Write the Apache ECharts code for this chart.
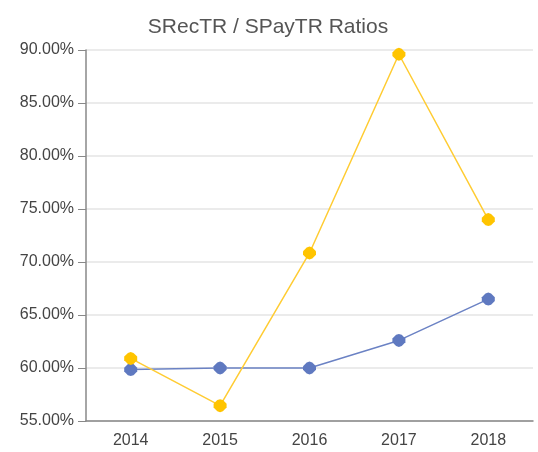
<!DOCTYPE html>
<html>
<head>
<meta charset="utf-8">
<script src="https://cdn.jsdelivr.net/npm/echarts@6/dist/echarts.min.js"></script>
<style>
html,body{margin:0;padding:0;background:#fff;}
#chart{width:538px;height:452px;}
</style>
</head>
<body>
<div id="chart"></div>
<script>
var titleText = 'SRecTR / SPayTR Ratios';
var years = ['2014', '2015', '2016', '2017', '2018'];
var srectrSeries = [59.85, 60.0, 60.0, 62.6, 66.5];
var spaytrSeries = [60.9, 56.45, 70.85, 89.6, 74.0];
var yMin = 55, yMax = 90, yStep = 5;

var chart = echarts.init(document.getElementById('chart'));
var markerPath = 'path://M0,-7 L3,-6 L7,-2 L7,2 L3,6 L0,7 L-3,6 L-7,2 L-7,-2 L-3,-6 Z';
chart.setOption({
  animation: false,
  backgroundColor: '#fff',
  title: {
    text: titleText,
    left: 263, top: 12, textAlign: 'center',
    textStyle: {fontFamily: 'Liberation Sans, Arial, sans-serif', fontSize: 21, fontWeight: 'normal', color: '#555'}
  },
  grid: {left: 86, right: 5, top: 50, bottom: 31, containLabel: false},
  xAxis: {
    type: 'category',
    data: years,
    boundaryGap: true,
    axisLine: {lineStyle: {color: '#888', width: 1.5}},
    axisTick: {show: false},
    axisLabel: {fontFamily: 'Liberation Sans, Arial, sans-serif', fontSize: 16, color: '#444', margin: 12}
  },
  yAxis: {
    type: 'value',
    min: yMin, max: yMax, interval: yStep,
    axisLine: {show: true, lineStyle: {color: '#888', width: 1.5}},
    axisTick: {show: true, length: 8, lineStyle: {color: '#888'}},
    splitLine: {lineStyle: {color: '#e4e4e4', width: 1.5}},
    axisLabel: {
      fontFamily: 'Liberation Sans, Arial, sans-serif', fontSize: 16, color: '#444', margin: 12,
      formatter: function (v) { return v.toFixed(2) + '%'; }
    }
  },
  series: [
    {
      name: 'SRecTR', type: 'line', data: srectrSeries,
      symbol: markerPath, symbolSize: 13,
      lineStyle: {color: '#6b82c4', width: 1.5},
      itemStyle: {color: '#5f79c0'}
    },
    {
      name: 'SPayTR', type: 'line', data: spaytrSeries,
      symbol: markerPath, symbolSize: 13,
      lineStyle: {color: '#ffcc33', width: 1.5},
      itemStyle: {color: '#ffc400'}
    }
  ]
});
</script>
</body>
</html>
